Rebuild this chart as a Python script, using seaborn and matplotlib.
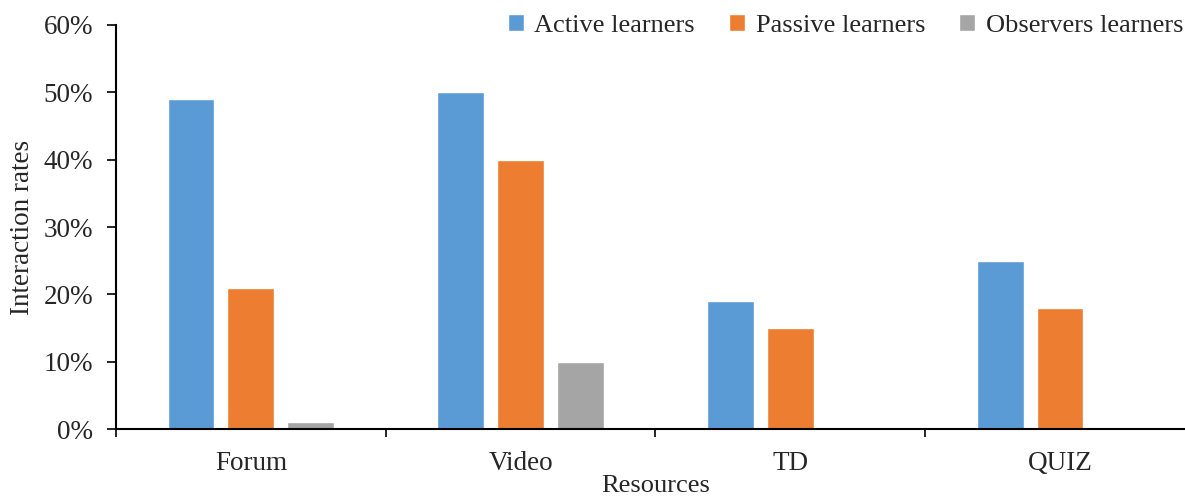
import matplotlib
matplotlib.use("Agg")
import matplotlib.pyplot as plt
import seaborn as sns
import pandas as pd
from matplotlib.ticker import FuncFormatter, FixedLocator, NullFormatter

resources = ["Forum", "Video", "TD", "QUIZ"]
groups = ["Active learners", "Passive learners", "Observers learners"]
active = [49, 50, 19, 25]
passive = [21, 40, 15, 18]
observers = [1, 10, 0, 0]
palette = ["#5B9BD5", "#ED7D31", "#A5A5A5"]

rows = []
for vals, g in zip([active, passive, observers], groups):
    for r, v in zip(resources, vals):
        rows.append({"Resources": r, "group": g, "rate": v})
df = pd.DataFrame(rows)

sns.set_theme(style="white")
plt.rcParams["font.family"] = ["Liberation Serif", "DejaVu Serif"]

fig = plt.figure(figsize=(11.85, 4.97), dpi=100)
ax = fig.add_axes([0.0979, 0.1368, 0.9105, 0.8129])

sns.barplot(data=df, x="Resources", y="rate", hue="group", hue_order=groups,
            order=resources, palette=palette, width=0.667, gap=0.22,
            saturation=1, ax=ax, errorbar=None)

ax.set_ylim(0, 60)
ax.set_xlim(-0.5, 3.5)
ax.set_yticks(range(0, 61, 10))
ax.yaxis.set_major_formatter(FuncFormatter(lambda v, p: f"{int(v)}%"))
ax.xaxis.set_major_locator(FixedLocator([-0.5, 0.5, 1.5, 2.5]))
ax.xaxis.set_major_formatter(NullFormatter())
ax.xaxis.set_minor_locator(FixedLocator([0, 1, 2, 3]))
ax.set_xticklabels(resources, minor=True)
ax.tick_params(axis="x", which="minor", length=0, pad=16, labelsize=19.5)
ax.tick_params(axis="x", which="major", direction="out", length=6, width=1.2,
               color="black", bottom=True)
ax.tick_params(axis="y", direction="out", length=6.5, width=1.2, color="black",
               left=True, labelsize=19.5, pad=10)

for s in ["top", "right"]:
    ax.spines[s].set_visible(False)
for s in ["left", "bottom"]:
    ax.spines[s].set_color("black")
    ax.spines[s].set_linewidth(1.5)

ax.set_xlabel("Resources", fontsize=19, labelpad=-1)
ax.set_ylabel("Interaction rates", fontsize=19.5, labelpad=6)

ax.legend(loc="upper right", bbox_to_anchor=(0.999, 1.053), ncol=3, frameon=False,
          fontsize=19, handlelength=0.6, handleheight=0.6, handletextpad=0.4,
          columnspacing=1.3, borderaxespad=0)

fig.savefig("out.png", dpi=100)
